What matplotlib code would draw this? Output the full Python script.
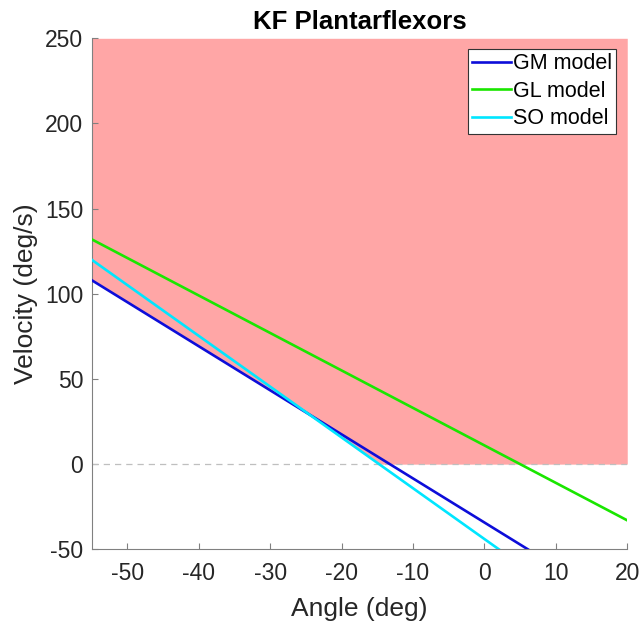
import numpy as np
import matplotlib.pyplot as plt

plt.rcParams['font.family'] = ['Liberation Sans', 'DejaVu Sans']
plt.rcParams['axes.unicode_minus'] = False

# line endpoints (angle in deg, velocity in deg/s)
angle = [-55, 20]
gm_vel = [108, -86]
gl_vel = [132, -33]
so_vel = [120, -103.6]

fig = plt.figure(figsize=(6.44, 6.28), dpi=100)
ax = fig.add_axes([0.1424, 0.1253, 0.974 - 0.1424, 0.939 - 0.1253])

# shaded region above lowest model line and above zero
xs = np.linspace(angle[0], angle[1], 600)
lowest = np.minimum.reduce([np.interp(xs, angle, v) for v in (gm_vel, gl_vel, so_vel)])
lower = np.maximum(lowest, 0)
ax.fill_between(xs, lower, 250, color=(1.0, 0.65, 0.65), lw=0, zorder=1)

ax.axhline(0, color='0.75', ls=(0, (5, 4)), lw=0.9, zorder=2)

ax.plot(angle, gm_vel, color=(0.05, 0.05, 0.85), lw=1.9, label='GM model', zorder=3)
ax.plot(angle, gl_vel, color=(0.1, 0.9, 0.0), lw=1.9, label='GL model', zorder=3)
ax.plot(angle, so_vel, color=(0.0, 0.9, 1.0), lw=1.9, label='SO model', zorder=3)

ax.set_xlim(-55, 20)
ax.set_ylim(-50, 250)
ax.set_xticks(range(-50, 21, 10))
ax.set_yticks(range(-50, 251, 50))

for s in ('top', 'right'):
    ax.spines[s].set_visible(False)
for s in ('left', 'bottom'):
    ax.spines[s].set_color('0.5')
    ax.spines[s].set_linewidth(0.8)
ax.tick_params(direction='in', length=4, width=0.8, color='0.5',
               labelsize=16.5, labelcolor='0.15')
ax.tick_params(axis='x', pad=9)
ax.tick_params(axis='y', pad=6)

ax.set_xlabel('Angle (deg)', fontsize=19, color='0.15', labelpad=9)
ax.set_ylabel('Velocity (deg/s)', fontsize=19, color='0.15', labelpad=5)
ax.set_title('KF Plantarflexors', fontsize=18.5, fontweight='bold', pad=7)

leg = ax.legend(loc='upper right', fontsize=15.5, frameon=True, fancybox=False,
                framealpha=1, handlelength=1.8, handletextpad=0.1,
                borderaxespad=0.5, labelspacing=0.3, borderpad=0.2)
leg.get_frame().set_edgecolor('0.2')
leg.get_frame().set_linewidth(0.8)

fig.savefig('out.png', dpi=100)
